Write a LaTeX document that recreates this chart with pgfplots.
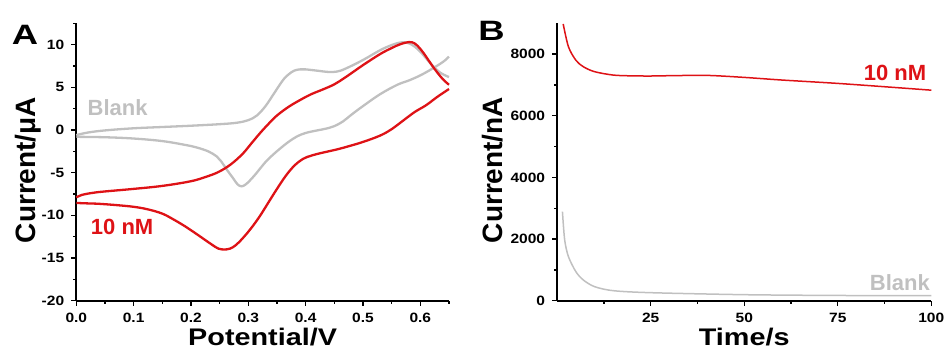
\documentclass[border=0pt]{standalone}
\usepackage{fontspec}
\setmainfont{Liberation Sans}
\usepackage{pgfplots}
\pgfplotsset{compat=1.18}
\definecolor{cvred}{RGB}{222,18,22}
\definecolor{cvgray}{RGB}{192,192,192}
\pgfplotsset{
  myax/.style={
    scale only axis,
    anchor=south west,
    axis x line*=bottom,
    axis y line*=left,
    x axis line style={line width=1.7pt,black},
    y axis line style={line width=1.7pt,black},
    tick align=outside,
    major tick length=5pt,
    minor tick length=3pt,
    tick style={line width=1.4pt,black},
    major tick style={line width=1.4pt,black},
    minor tick style={line width=1.4pt,black},
    /pgf/number format/assume math mode=true,
    xticklabel style={font=\fontsize{13.5}{15}\selectfont\bfseries,xscale=1.15,inner sep=0pt,yshift=-7pt},
    yticklabel style={font=\fontsize{13.5}{15}\selectfont\bfseries,xscale=1.15,inner sep=0pt,xshift=-6pt},
    xlabel style={font=\fontsize{24}{26}\selectfont\bfseries,xscale=1.2,at={(axis description cs:0.5,-0.0995)},anchor=north,inner sep=0pt},
    ylabel style={font=\fontsize{28}{30}\selectfont\bfseries,anchor=north,rotate=0,inner sep=0pt},
    clip=false,
  }
}
\begin{document}
\begin{tikzpicture}
\path[use as bounding box] (0,0) rectangle (949pt,351pt);
\begin{axis}[myax,
  at={(76.3pt,50.3pt)}, width=372.7pt, height=277.4pt,
  xmin=0, xmax=0.65, ymin=-20, ymax=12.5,
  xtick={0,0.1,0.2,0.3,0.4,0.5,0.6},
  xticklabels={0.0,0.1,0.2,0.3,0.4,0.5,0.6},
  minor xtick={0.05,0.15,0.25,0.35,0.45,0.55,0.65},
  ytick={-20,-15,-10,-5,0,5,10},
  yticklabels={-20,-15,-10,-5,0,5,10},
  minor ytick={-17.5,-12.5,-7.5,-2.5,2.5,7.5,12.5},
  xlabel={Potential/V},
  ylabel={Current/μA},
  ylabel style={at={(axis description cs:-0.164,0.471)}},
]
% Blank forward
\addplot[cvgray,line width=2.3pt,smooth,tension=0.6] coordinates {
(0,-0.6)(0.02,-0.3)(0.05,-0.05)(0.1,0.2)(0.15,0.35)(0.2,0.5)(0.25,0.68)(0.28,0.85)
(0.3,1.15)(0.315,1.7)(0.33,2.8)(0.345,4.3)(0.36,5.8)(0.37,6.5)(0.38,6.95)(0.39,7.1)
(0.40,7.1)(0.42,6.95)(0.44,6.8)(0.455,6.85)(0.47,7.2)(0.5,8.2)(0.53,9.35)(0.55,9.95)
(0.565,10.25)(0.575,10.25)(0.585,10.0)(0.595,9.5)(0.605,8.8)(0.615,8.0)(0.625,7.3)
(0.635,6.7)(0.645,6.35)(0.65,6.2)};
% Blank reverse
\addplot[cvgray,line width=2.3pt,smooth,tension=0.6] coordinates {
(0.65,8.6)(0.64,8.0)(0.62,7.15)(0.6,6.4)(0.58,5.8)(0.56,5.3)(0.53,4.2)(0.5,2.8)
(0.48,1.8)(0.465,1.0)(0.45,0.45)(0.435,0.15)(0.42,-0.05)(0.4,-0.35)(0.385,-0.75)
(0.37,-1.4)(0.355,-2.2)(0.343,-2.9)(0.332,-3.6)(0.322,-4.4)(0.313,-5.15)(0.303,-5.9)
(0.295,-6.4)(0.288,-6.6)(0.281,-6.35)(0.274,-5.7)(0.262,-4.6)(0.253,-3.7)(0.245,-3.1)
(0.23,-2.5)(0.21,-2.05)(0.19,-1.75)(0.15,-1.3)(0.1,-1.0)(0.05,-0.85)(0,-0.8)};
% 10 nM forward
\addplot[cvred,line width=2.3pt,smooth,tension=0.6] coordinates {
(0,-7.9)(0.01,-7.6)(0.03,-7.35)(0.05,-7.2)(0.1,-6.9)(0.15,-6.55)(0.2,-6.0)(0.23,-5.4)
(0.25,-4.85)(0.27,-4.0)(0.29,-2.8)(0.305,-1.6)(0.32,-0.4)(0.335,0.7)(0.35,1.7)(0.37,2.7)
(0.39,3.5)(0.41,4.2)(0.43,4.75)(0.45,5.35)(0.47,6.2)(0.5,7.6)(0.53,8.9)(0.55,9.6)
(0.565,10.05)(0.58,10.3)(0.59,10.15)(0.6,9.5)(0.61,8.6)(0.62,7.6)(0.63,6.7)(0.64,5.9)(0.65,5.3)};
% 10 nM reverse
\addplot[cvred,line width=2.3pt,smooth,tension=0.6] coordinates {
(0.65,4.8)(0.63,3.9)(0.61,2.9)(0.59,2.1)(0.57,1.1)(0.55,0.1)(0.53,-0.65)(0.5,-1.4)
(0.47,-2.0)(0.45,-2.35)(0.43,-2.65)(0.41,-3.0)(0.395,-3.4)(0.38,-4.2)(0.365,-5.4)
(0.35,-6.9)(0.335,-8.5)(0.32,-10.1)(0.305,-11.5)(0.29,-12.7)(0.278,-13.5)(0.268,-13.9)
(0.258,-14.0)(0.248,-13.9)(0.238,-13.5)(0.225,-12.9)(0.21,-12.2)(0.19,-11.3)(0.17,-10.5)
(0.15,-9.8)(0.125,-9.3)(0.1,-9.0)(0.07,-8.8)(0.04,-8.65)(0.02,-8.6)(0,-8.55)};
\node[cvgray,font=\fontsize{22}{24}\selectfont\bfseries] at (axis cs:0.072,2.6) {Blank};
\node[cvred,font=\fontsize{22}{24}\selectfont\bfseries] at (axis cs:0.08,-11.3) {10 nM};
\end{axis}
\begin{axis}[myax,
  at={(557.2pt,50.3pt)}, width=374.1pt, height=277.4pt,
  xmin=0, xmax=100, ymin=0, ymax=9000,
  xtick={25,50,75,100},
  xticklabels={25,50,75,100},
  minor xtick={12.5,37.5,62.5,87.5},
  ytick={0,2000,4000,6000,8000},
  yticklabels={0,2000,4000,6000,8000},
  minor ytick={1000,3000,5000,7000},
  xlabel={Time/s},
  ylabel={Current/nA},
  ylabel style={at={(axis description cs:-0.2,0.471)}},
]
\addplot[cvred,line width=1.5pt,smooth,tension=0.5] coordinates {
(1.6,8980)(3,8240)(5,7800)(7,7590)(10,7430)(15,7320)(20,7295)(25,7290)(30,7300)
(40,7310)(50,7245)(60,7160)(75,7050)(90,6920)(100,6830)};
\addplot[cvgray,line width=1.5pt,smooth,tension=0.5] coordinates {
(1.4,2890)(2,1970)(3,1430)(5,940)(7,670)(10,455)(15,325)(25,260)(50,195)(75,170)(100,162)};
\node[cvred,font=\fontsize{22}{24}\selectfont\bfseries] at (axis cs:90.3,7400) {10 nM};
\node[cvgray,font=\fontsize{22}{24}\selectfont\bfseries] at (axis cs:91.6,590) {Blank};
\end{axis}
\node[font=\fontsize{28}{30}\selectfont\bfseries,xscale=1.3] at (25pt,316pt) {A};
\node[font=\fontsize{28}{30}\selectfont\bfseries,xscale=1.3] at (491.5pt,320pt) {B};
\end{tikzpicture}
\end{document}
